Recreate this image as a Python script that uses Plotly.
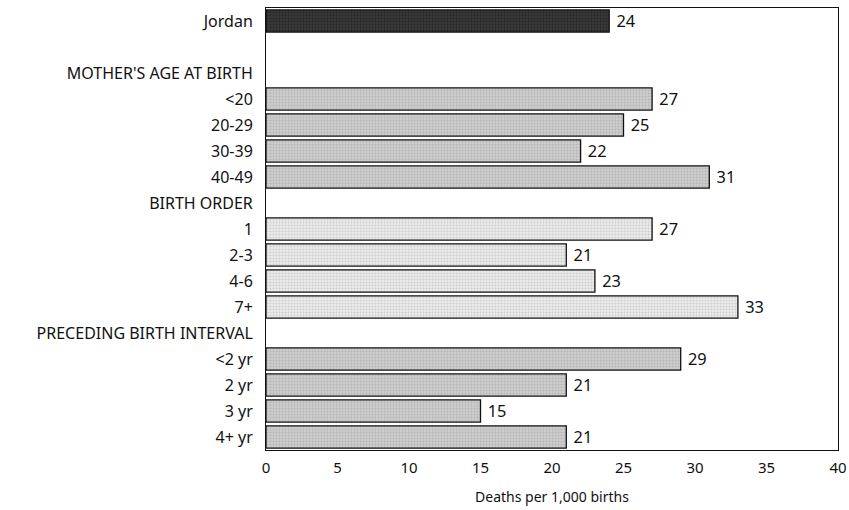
import plotly.graph_objects as go

labels = ["Jordan", "", "MOTHER'S AGE AT BIRTH", "<20", "20-29", "30-39", "40-49",
          "BIRTH ORDER", "1", "2-3", "4-6", "7+",
          "PRECEDING BIRTH INTERVAL", "<2 yr", "2 yr", "3 yr", "4+ yr"]
values = [24, None, None, 27, 25, 22, 31, None, 27, 21, 23, 33, None, 29, 21, 15, 21]
groups = ["total", None, None, "age", "age", "age", "age", None,
          "order", "order", "order", "order", None, "int", "int", "int", "int"]

styles = {
    "total": dict(bg="#3a3a3a", fg="#111111"),
    "age": dict(bg="#cfcfcf", fg="#9a9a9a"),
    "order": dict(bg="#ececec", fg="#b0b0b0"),
    "int": dict(bg="#cfcfcf", fg="#9a9a9a"),
}

FONT = "Noto Sans"
fig = go.Figure()
ypos = list(range(len(labels)))
for g, st in styles.items():
    ys = [i for i in ypos if groups[i] == g]
    xs = [values[i] for i in ys]
    fig.add_trace(go.Bar(
        x=xs, y=ys, orientation="h", width=0.85,
        marker=dict(color=st["bg"], line=dict(color="#111111", width=1.3),
                    pattern=dict(shape=".", fgcolor=st["fg"], bgcolor=st["bg"],
                                 size=3, solidity=0.4)),
        text=["\u00a0" + str(v) for v in xs], textposition="outside",
        textfont=dict(family=FONT, size=20, color="#111111"),
        cliponaxis=False, showlegend=False, hoverinfo="skip",
    ))

fig.update_layout(
    width=849, height=510,
    margin=dict(l=266, r=11, t=8, b=60),
    plot_bgcolor="white", paper_bgcolor="white",
    font=dict(family=FONT, color="#111111", size=14),
    bargap=0.15,
    xaxis=dict(range=[0, 40], tickvals=[0, 5, 10, 15, 20, 25, 30, 35, 40],
               automargin=False,
               showgrid=False, zeroline=False, showline=True, linecolor="#111111",
               linewidth=1, mirror=True, ticks="", ticklen=0, ticklabelstandoff=4,
               tickfont=dict(size=15), title=dict(text="Deaths per 1,000 births",
               font=dict(size=14), standoff=16)),
    yaxis=dict(range=[len(labels) - 0.5, -0.5], tickvals=ypos, ticktext=labels,
               automargin=False,
               showgrid=False, zeroline=False, showline=True, linecolor="#111111",
               linewidth=1, mirror=True, ticks="", ticklabelstandoff=9,
               tickfont=dict(size=16)),
)
fig.write_html("out.html", config={"displayModeBar": False},
               post_script="document.body.style.margin='0';document.body.style.overflow='hidden';")
